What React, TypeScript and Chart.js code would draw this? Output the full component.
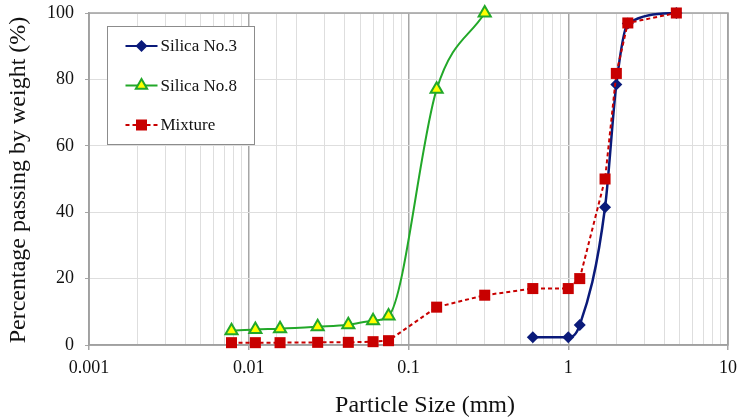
import React, { useEffect, useRef } from 'react';
import { Chart, registerables } from 'chart.js';
Chart.register(...registerables);

const seriesNames = ['Silica No.3', 'Silica No.8', 'Mixture'];
const sizesNo3 = [0.6, 1.0, 1.18, 1.7, 2.0, 2.36, 4.75];
const passNo3 = [2.3, 2.3, 6.0, 41.5, 78.5, 96.8, 100];
const sizesNo8 = [0.0078, 0.011, 0.0157, 0.027, 0.042, 0.06, 0.075, 0.15, 0.3];
const passNo8 = [4.3, 4.7, 4.9, 5.5, 6.1, 7.3, 8.7, 77.0, 100];
const sizesMix = [0.0078, 0.011, 0.0157, 0.027, 0.042, 0.06, 0.075, 0.15, 0.3, 0.6, 1.0, 1.18, 1.7, 2.0, 2.36, 4.75];
const passMix = [0.7, 0.7, 0.7, 0.8, 0.8, 1.0, 1.3, 11.4, 15.0, 17.0, 17.0, 20.0, 50.0, 81.8, 97.0, 100];
const xTickLabels = ['0.001', '0.01', '0.1', '1', '10'];
const yTickValues = [0, 20, 40, 60, 80, 100];
const xTitle = 'Particle Size (mm)';
const yTitle = 'Percentage passing by weight (%)';

const FONT = '"Liberation Serif", "Times New Roman", serif';
const NAVY = '#0a1a7a';
const GREEN = '#22a829';
const YELLOW = '#ffff00';
const RED = '#c80000';

const isMajor = (v: number) => {
  const l = Math.log10(v);
  return Math.abs(l - Math.round(l)) < 1e-6;
};

function drawMarker(ctx: CanvasRenderingContext2D, kind: string, x: number, y: number) {
  ctx.save();
  ctx.setLineDash([]);
  ctx.beginPath();
  if (kind === 'diamond') {
    const r = 6;
    ctx.moveTo(x, y - r); ctx.lineTo(x + r, y); ctx.lineTo(x, y + r); ctx.lineTo(x - r, y); ctx.closePath();
    ctx.fillStyle = NAVY; ctx.fill();
  } else if (kind === 'triangle') {
    const r = 6.5;
    ctx.moveTo(x, y - r);
    ctx.lineTo(x + r * 0.866, y + r * 0.5);
    ctx.lineTo(x - r * 0.866, y + r * 0.5);
    ctx.closePath();
    ctx.fillStyle = YELLOW; ctx.fill();
    ctx.lineWidth = 2; ctx.strokeStyle = GREEN; ctx.stroke();
  } else {
    const h = 5.5;
    ctx.rect(x - h, y - h, 2 * h, 2 * h);
    ctx.fillStyle = RED; ctx.fill();
  }
  ctx.restore();
}

const frameAndLegend = {
  id: 'frameAndLegend',
  beforeDatasetsDraw(chart: any) {
    const { ctx, chartArea } = chart;
    ctx.save();
    ctx.strokeStyle = '#a0a0a0';
    ctx.lineWidth = 1.5;
    ctx.strokeRect(chartArea.left, chartArea.top, chartArea.right - chartArea.left, chartArea.bottom - chartArea.top);
    ctx.restore();
  },
  afterDraw(chart: any) {
    const { ctx, chartArea } = chart;
    ctx.save();
    // axis titles
    ctx.fillStyle = '#111';
    ctx.font = '24px ' + FONT;
    ctx.textAlign = 'center';
    ctx.textBaseline = 'alphabetic';
    ctx.fillText(xTitle, 425, 412);
    ctx.save();
    ctx.translate(25, 180);
    ctx.rotate(-Math.PI / 2);
    ctx.fillText(yTitle, 0, 0);
    ctx.restore();
    // legend
    const bx = chartArea.left + 18.5;
    const by = chartArea.top + 13.5;
    const bw = 147;
    const bh = 118;
    ctx.fillStyle = '#ffffff';
    ctx.fillRect(bx, by, bw, bh);
    ctx.strokeStyle = '#8c8c8c';
    ctx.lineWidth = 1;
    ctx.strokeRect(bx, by, bw, bh);
    const kinds = ['diamond', 'triangle', 'square'];
    const colors = [NAVY, GREEN, RED];
    chart.data.datasets.forEach((ds: any, i: number) => {
      const y = by + 19.5 + i * 39.5;
      ctx.save();
      ctx.strokeStyle = colors[i];
      ctx.lineWidth = 2;
      ctx.setLineDash(i === 2 ? [4, 3] : []);
      ctx.beginPath();
      ctx.moveTo(bx + 18, y);
      ctx.lineTo(bx + 50, y);
      ctx.stroke();
      ctx.restore();
      drawMarker(ctx, kinds[i], bx + 34, y);
      ctx.fillStyle = '#111';
      ctx.font = '17px ' + FONT;
      ctx.textBaseline = 'middle';
      ctx.textAlign = 'left';
      ctx.fillText(ds.label, bx + 53, y + 1);
    });
    ctx.restore();
  },
};

export default function App() {
  const ref = useRef<HTMLCanvasElement | null>(null);
  useEffect(() => {
    if (!ref.current) return;
    const toPts = (xs: number[], ys: number[]) => xs.map((x, i) => ({ x, y: ys[i] }));
    const chart = new Chart(ref.current, {
      type: 'line',
      data: {
        datasets: [
          {
            label: seriesNames[0],
            data: toPts(sizesNo3, passNo3),
            borderColor: NAVY,
            backgroundColor: NAVY,
            borderWidth: 2.5,
            pointStyle: 'rectRot',
            pointRadius: 6,
            pointBorderWidth: 0,
            pointBackgroundColor: NAVY,
            cubicInterpolationMode: 'monotone',
            clip: false,
            order: 2,
          },
          {
            label: seriesNames[1],
            data: toPts(sizesNo8, passNo8),
            borderColor: GREEN,
            backgroundColor: YELLOW,
            borderWidth: 2,
            pointStyle: 'triangle',
            pointRadius: 7,
            pointBorderWidth: 2,
            pointBorderColor: GREEN,
            pointBackgroundColor: YELLOW,
            cubicInterpolationMode: 'monotone',
            clip: false,
            order: 1,
          },
          {
            label: seriesNames[2],
            data: toPts(sizesMix, passMix),
            borderColor: RED,
            backgroundColor: RED,
            borderWidth: 2,
            borderDash: [4, 3],
            pointStyle: 'rect',
            pointRadius: 7.8,
            pointBorderWidth: 0,
            pointBackgroundColor: RED,
            tension: 0,
            clip: false,
            order: 0,
          },
        ],
      },
      options: {
        responsive: false,
        animation: false,
        layout: { padding: { top: 13, right: 11, left: 0, bottom: 0 } },
        plugins: {
          legend: { display: false },
          tooltip: { enabled: false },
        },
        scales: {
          x: {
            type: 'logarithmic',
            min: 0.001,
            max: 10,
            title: { display: false, text: xTitle },
            ticks: {
              autoSkip: false,
              maxRotation: 0,
              font: { family: FONT, size: 18 },
              color: '#111',
              padding: 7,
              callback: (v: any) => {
                const val = Number(v);
                if (!isMajor(val)) return '';
                const idx = Math.round(Math.log10(val)) + 3;
                return xTickLabels[idx] ?? '';
              },
            },
            grid: {
              color: (c: any) => (c.tick && isMajor(c.tick.value) ? '#a6a6a6' : '#dedede'),
              lineWidth: (c: any) => (c.tick && isMajor(c.tick.value) ? 1.5 : 1),
              tickColor: (c: any) => (c.tick && isMajor(c.tick.value) ? '#a6a6a6' : 'rgba(0,0,0,0)'),
              tickLength: 5,
            },
            border: { color: '#a0a0a0', width: 1.5 },
            afterFit: (s: any) => {
              s.height = 75;
              s.paddingLeft = 0;
              s.paddingRight = 0;
            },
          },
          y: {
            type: 'linear',
            min: 0,
            max: 100,
            afterBuildTicks: (s: any) => { s.ticks = yTickValues.map((v) => ({ value: v })); },
            title: { display: false, text: yTitle },
            ticks: {
              font: { family: FONT, size: 18 },
              color: '#111',
              padding: 11,
            },
            grid: {
              color: '#dedede',
              lineWidth: 1,
              tickColor: '#a6a6a6',
              tickLength: 4,
            },
            border: { color: '#a0a0a0', width: 1.5 },
            afterFit: (s: any) => {
              s.width = 89;
              s.paddingTop = 0;
              s.paddingBottom = 0;
            },
          },
        },
      },
      plugins: [frameAndLegend],
    });
    return () => chart.destroy();
  }, []);
  return (
    <div style={{ position: 'fixed', left: 0, top: 0, width: 739, height: 420, background: '#fff' }}>
      <canvas ref={ref} width={739} height={420} />
    </div>
  );
}
